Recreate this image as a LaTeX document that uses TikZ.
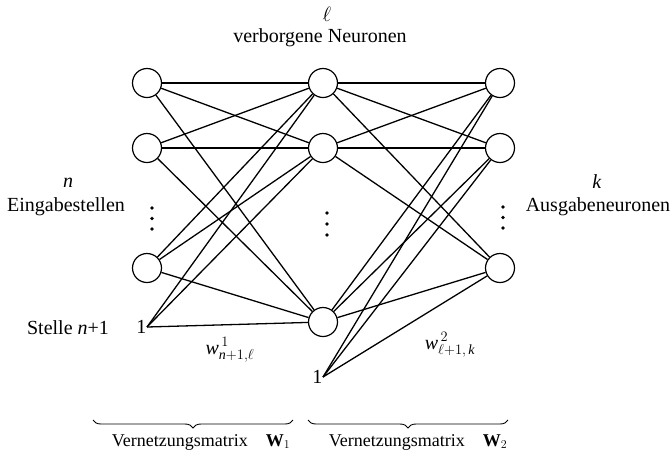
\documentclass[tikz,border=0pt]{standalone}
\usepackage{amsmath}
\usepackage{fontspec}
\setmainfont{Liberation Serif}
\usetikzlibrary{decorations.pathreplacing}

\begin{document}
\begin{tikzpicture}[x=1pt,y=-1pt,line width=1.3pt,
  neuron/.style={draw,circle,minimum size=29pt,inner sep=0pt,line width=1.2pt},
  txt/.style={font=\fontsize{20}{24}\selectfont,inner sep=0pt},
  small/.style={font=\fontsize{18}{22}\selectfont,inner sep=0pt},
  brc/.style={decorate,decoration={brace,amplitude=8pt},line width=0.9pt}]

\useasboundingbox (0,0) rectangle (672,456);

% The neurons
\node[neuron] (in1) at (147,83) {};
\node[neuron] (in2) at (147,148) {};
\node[neuron] (in3) at (147,268) {};
\node[neuron] (hid1) at (323,83) {};
\node[neuron] (hid2) at (323,148) {};
\node[neuron] (hid3) at (323,322) {};
\node[neuron] (out1) at (500,83) {};
\node[neuron] (out2) at (500,148) {};
\node[neuron] (out3) at (500,268) {};

% The bias inputs
\node[txt,anchor=east] (bias1) at (147,327) {1};
\node[txt,anchor=east] (bias2) at (323,377) {1};

% The connections
\foreach \i in {1,2,3}
	\foreach \j in {1,2,3}
	{
		\draw (in\i) -- (hid\j);
		\draw (hid\i) -- (out\j);
	}
\foreach \j in {1,2,3}
{
	\draw (bias1.east) -- (hid\j);
	\draw (bias2.east) -- (out\j);
}

% The dots
\foreach \coo in {0,1,2}
{
	\fill (152,208+10.5*\coo) circle (1.8pt);
	\fill (327,213+11*\coo) circle (1.8pt);
	\fill (503,207+10.5*\coo) circle (1.8pt);
}

% The labels
\node[txt] (ell) at (327,14) {$\ell$};
\node[txt] (hidlab) at (320,38) {verborgene Neuronen};
\node[txt] (nlab) at (68,183) {\textit{n}};
\node[txt] (inlab) at (66,207) {Eingabestellen};
\node[txt] (klab) at (597,182) {\textit{k}};
\node[txt] (outlab) at (598,207) {Ausgabeneuronen};
\node[txt] (stelle) at (68,328) {Stelle \textit{n}+1};
\node[txt] (w1) at (230,350) {$\mathit{w}^{\,1}_{\mathit{n}+1,\ell}$};
\node[txt] (w2) at (450,345) {$\mathit{w}^{\,2}_{\ell+1,\,\mathit{k}}$};

% The braces
\draw[brc] (293,420) -- (93,420);
\draw[brc] (508,420) -- (308,420);
\node[small] (mat1) at (201,442) {Vernetzungsmatrix\quad\textbf{W}$_1$};
\node[small] (mat2) at (418,442) {Vernetzungsmatrix\quad\textbf{W}$_2$};

\end{tikzpicture}
\end{document}
